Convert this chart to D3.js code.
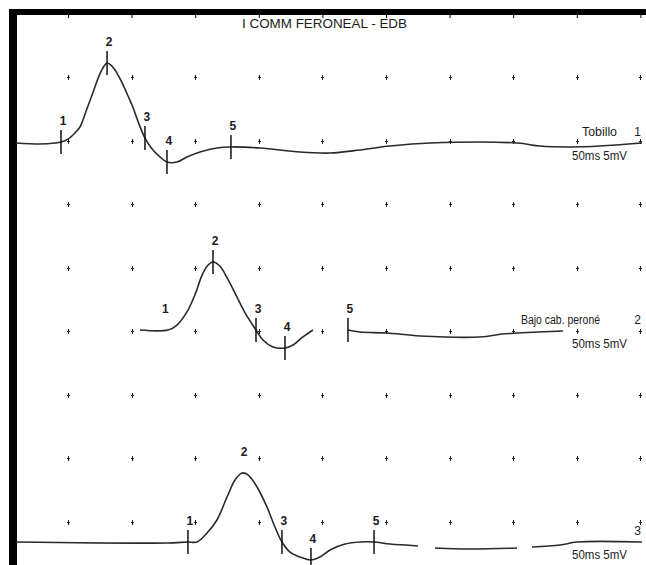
<!DOCTYPE html>
<html>
<head>
<meta charset="utf-8">
<script src="https://cdn.jsdelivr.net/npm/d3@7"></script>
<style>
  body { margin: 0; background: #fff; }
  svg { display: block; }
  text { font-family: "Liberation Sans Narrow", "Liberation Sans", Arial, sans-serif; fill: #1b1b22; }
</style>
</head>
<body>
<div id="drawing"></div>
<script>
// ---- data ----
const title = "I COMM FERONEAL - EDB";
const gridTimes = [5, 10, 15, 20, 25, 30, 35, 40, 45, 50]; // ms
const gridRows = [0, 1, 2, 3, 4, 5, 6, 7];

// traces: [ms, mV], null = gap in trace
const trace1 = [[0.91,0],[2.8,-0.08],[3.98,0],[4.45,0.08],[5.0,0.31],[5.47,0.71],[5.94,1.26],[6.42,2.5],[6.97,4.0],[7.45,5.3],[7.8,6.0],[8.07,6.3],[8.35,6.15],[8.7,5.75],[9.01,5.2],[9.32,4.6],[9.72,3.7],[10.11,2.8],[10.58,1.5],[11.05,0.39],[11.68,-0.55],[12.23,-1.1],[12.78,-1.5],[13.57,-1.5],[14.35,-1.1],[15.38,-0.71],[16.71,-0.39],[17.81,-0.31],[20.09,-0.39],[23.24,-0.71],[25.6,-0.79],[27.95,-0.55],[30.31,-0.24],[33.46,0],[40.3,0],[42.1,-0.24],[44.47,-0.31],[46.82,-0.24],[50.12,0]];
const trace2 = [[10.66,0.08],[12.86,0.08],[13.57,0.47],[14.35,1.5],[15.0,2.9],[15.5,4.3],[15.93,5.1],[16.4,5.43],[16.95,5.1],[17.5,4.2],[18.13,2.99],[18.92,1.42],[19.78,0.08],[20.33,-0.71],[21.12,-1.26],[22.06,-1.34],[22.69,-1.1],[23.47,-0.47],[24.26,0.08],null,[27.01,0.08],[27.96,-0.08],[30.08,-0.16],[32.67,-0.39],[37.39,-0.47],[39.12,-0.24],[40.3,-0.16],[43.91,0]];
const trace3 = [[0.91,0],[12.78,-0.08],[14.43,0],[15.14,0],[15.93,0.71],[16.71,1.73],[17.5,3.54],[18.13,4.88],[18.68,5.43],[19.15,5.28],[19.86,4.33],[20.64,2.76],[21.27,1.18],[21.82,0],[22.45,-0.79],[23.24,-1.18],[24.1,-1.42],[24.81,-1.18],[25.6,-0.63],[26.78,-0.16],[27.96,0],[29.06,0],[30.31,-0.16],[32.52,-0.31],null,[33.85,-0.47],[36.6,-0.55],[40.3,-0.47],null,[41.48,-0.39],[43.68,-0.24],[45.02,0],[50.12,0]];

// markers: label, time (ms), whether a tick is drawn
const markers1 = [["1",4.45,true],["2",8.07,true],["3",11.05,true],["4",12.78,true],["5",17.81,true]];
const markers2 = [["1",12.5,false],["2",16.4,true],["3",19.78,true],["4",22.06,true],["5",27.01,true]];
const markers3 = [["1",14.43,true],["2",18.68,false],["3",21.82,true],["4",24.1,true],["5",29.06,true]];

const siteNames = ["Tobillo", "Bajo cab. peroné", ""];
const traceNums = ["1", "2", "3"];
const scaleLabel = "50ms 5mV";

// ---- layout ----
const width = 646, height = 565;
const baselines = [143, 331, 542];
const traces = [trace1, trace2, trace3];
const markers = [markers1, markers2, markers3];

const svg = d3.select("#drawing").append("svg")
  .attr("width", width).attr("height", height);

const x = d3.scaleLinear().domain([0, 50]).range([4.4, 640.4]);
const yGrid = d3.scaleLinear().domain([0, 7]).range([78, 522.5]);
const yFor = base => d3.scaleLinear().domain([0, 5]).range([base, base - 63.5]);

// frame
svg.append("rect").attr("x", 9).attr("y", 9).attr("width", 8).attr("height", height - 9).attr("fill", "#000");
svg.append("rect").attr("x", 9).attr("y", 9).attr("width", width - 9).attr("height", 6).attr("fill", "#000");

// ticks under top border
svg.append("g")
  .attr("transform", "translate(0,15)")
  .call(d3.axisBottom(x).tickValues(gridTimes).tickSize(3).tickFormat(""))
  .call(g => g.select(".domain").remove())
  .selectAll("line").attr("stroke", "#000");

// grid marks
const gridPts = [];
gridRows.forEach(r => gridTimes.forEach(t => gridPts.push([t, r])));
const gm = svg.append("g").attr("stroke", "#222").attr("stroke-width", 1);
gm.selectAll("path").data(gridPts).enter().append("path")
  .attr("d", d => {
    const px = Math.round(x(d[0])) + 0.5, py = Math.round(yGrid(d[1]));
    return `M${px},${py - 3}V${py + 2}M${px - 1.5},${py - 0.5}H${px + 1.5}`;
  });

// title
svg.append("text")
  .attr("x", 242).attr("y", 28)
  .attr("font-size", 13)
  .attr("textLength", 165).attr("lengthAdjust", "spacingAndGlyphs")
  .text(title);

// value at time t by linear interpolation
function valueAt(data, t) {
  const pts = data.filter(d => d);
  for (let i = 1; i < pts.length; i++) {
    if (t <= pts[i][0]) {
      const a = pts[i - 1], b = pts[i];
      return a[1] + (b[1] - a[1]) * (t - a[0]) / (b[0] - a[0]);
    }
  }
  return pts[pts.length - 1][1];
}

traces.forEach((data, i) => {
  const y = yFor(baselines[i]);
  const line = d3.line()
    .defined(d => d !== null)
    .x(d => x(d[0])).y(d => y(d[1]))
    .curve(d3.curveCatmullRom.alpha(0.5));

  svg.append("path")
    .attr("d", line(data))
    .attr("fill", "none")
    .attr("stroke", "#2a2a2a")
    .attr("stroke-width", 1.6);

  const mg = svg.append("g");
  markers[i].forEach(m => {
    const mx = x(m[1]), my = y(valueAt(data, m[1]));
    if (m[2]) {
      mg.append("line")
        .attr("x1", mx).attr("x2", mx)
        .attr("y1", my - 12).attr("y2", my + 12)
        .attr("stroke", "#111").attr("stroke-width", 1.5);
    }
    mg.append("text")
      .attr("x", mx + 2).attr("y", my - 17)
      .attr("text-anchor", "middle")
      .attr("font-size", 12).attr("font-weight", "bold")
      .text(m[0]);
  });

  const b = baselines[i];
  if (siteNames[i]) {
    svg.append("text")
      .attr("x", i === 0 ? 582 : 521).attr("y", b - 7)
      .attr("font-size", 12)
      .attr("textLength", i === 0 ? 35 : 79).attr("lengthAdjust", "spacingAndGlyphs")
      .text(siteNames[i]);
  }
  svg.append("text")
    .attr("x", 641).attr("y", b - 7)
    .attr("text-anchor", "end")
    .attr("font-size", 12)
    .text(traceNums[i]);
  svg.append("text")
    .attr("x", 572).attr("y", b + 17)
    .attr("font-size", 12)
    .attr("textLength", 55).attr("lengthAdjust", "spacingAndGlyphs")
    .text(scaleLabel);
});
</script>
</body>
</html>
